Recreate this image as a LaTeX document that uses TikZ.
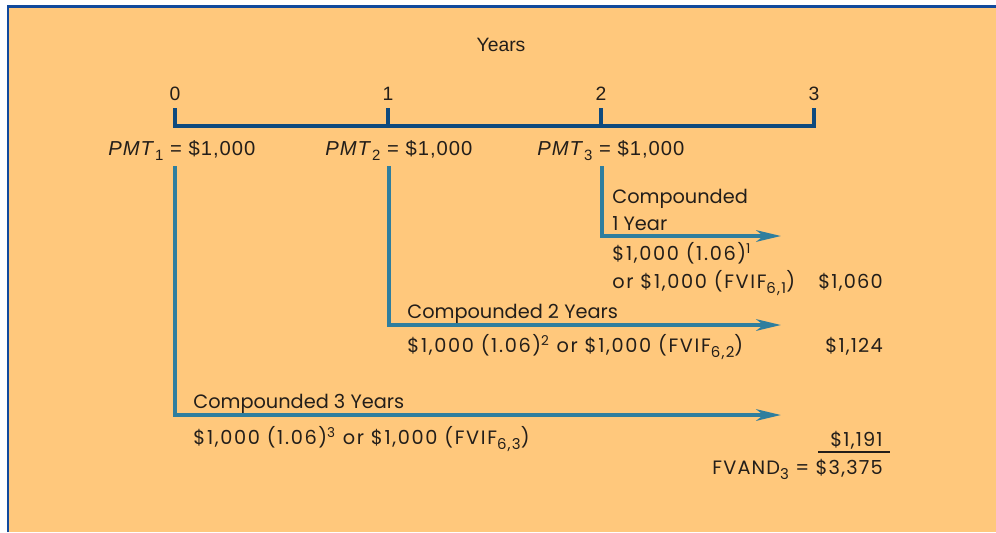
\documentclass[tikz,border=0pt]{standalone}
\usepackage{fontspec}
\setmainfont{Liberation Sans}
\newfontfamily\bookfont{Poppins}
\newfontfamily\sumfont[LetterSpace=6]{Poppins}
\newfontfamily\calcfont[LetterSpace=8.5]{Poppins}
\newfontfamily\pmtfont[LetterSpace=5]{Liberation Sans}
\newcommand\lowsub[1]{\raisebox{-0.55ex}{\fontsize{8.5}{9}\selectfont #1}}
\usetikzlibrary{arrows.meta}
\definecolor{paper}{HTML}{FFC87C}
\definecolor{frameblue}{HTML}{124A9C}
\definecolor{lineblue}{HTML}{0E4A7E}
\definecolor{flowblue}{HTML}{2F7E9E}
\definecolor{ink}{HTML}{231E1A}

\begin{document}
\begin{tikzpicture}[x=0.02cm, y=-0.02cm,
    every node/.style={inner sep=0pt, text=ink, font=\fontsize{11}{13}\selectfont},
    tick/.style={anchor=base},
    pmt/.style={anchor=base west, font=\pmtfont\fontsize{11.5}{13}\selectfont},
    lbl/.style={anchor=base west, font=\bookfont\fontsize{11}{13}\selectfont},
    calc/.style={anchor=base west, font=\calcfont\fontsize{11}{13}\selectfont},
    amount/.style={anchor=base east, font=\sumfont\fontsize{11}{13}\selectfont},
    timeline/.style={draw=lineblue, line width=2.8pt, line join=miter},
    flow/.style={draw=flowblue, line width=2.2pt, line join=miter,
      -{Stealth[length=14pt, width=6.5pt, inset=4pt]}}]
  \useasboundingbox (0,0) rectangle (996,532);
  \fill[white] (0,0) rectangle (996,532);
  \fill[paper] (8,6) rectangle (996,532);
  \draw[frameblue, line width=1.7pt] (8,532) -- (8,6) -- (996,6);

  \node (years) at (501,45) {Years};
  \node[tick] (y0) at (175,100) {0};
  \node[tick] (y1) at (388,100) {1};
  \node[tick] (y2) at (601,100) {2};
  \node[tick] (y3) at (814,100) {3};

  \coordinate (k0) at (175,108);
  \coordinate (k1) at (388,108);
  \coordinate (k2) at (601,108);
  \coordinate (k3) at (814,108);
  \coordinate (t0) at (175,126);
  \coordinate (t1) at (388,126);
  \coordinate (t2) at (601,126);
  \coordinate (t3) at (814,126);
  \draw[timeline] (k0) -- (t0) -- (t3) -- (k3);
  \draw[timeline] (k1) -- (t1);
  \draw[timeline] (k2) -- (t2);

  \node[pmt] (pmt1) at (108,155) {\textit{PMT}\lowsub{1} = \$1,000};
  \node[pmt] (pmt2) at (325,155) {\textit{PMT}\lowsub{2} = \$1,000};
  \node[pmt] (pmt3) at (537,155) {\textit{PMT}\lowsub{3} = \$1,000};

  \coordinate (s1) at (175,166);
  \coordinate (s2) at (389,166);
  \coordinate (s3) at (602,166);
  \coordinate (e1) at (781,415);
  \coordinate (e2) at (781,325);
  \coordinate (e3) at (781,236);
  \draw[flow] (s1) |- (e1);
  \draw[flow] (s2) |- (e2);
  \draw[flow] (s3) |- (e3);

  \node[lbl] (c1a) at (612,203) {Compounded};
  \node[lbl] (c1b) at (612,230) {1 Year};
  \node[calc] (f1a) at (612,260) {\$1,000 (1.06)\textsuperscript{1}};
  \node[calc] (f1b) at (612,288) {or \$1,000 (FVIF\lowsub{6,1})};
  \node[amount] (v1) at (883,288) {\$1,060};

  \node[lbl] (c2) at (407,318) {Compounded 2 Years};
  \node[calc] (f2) at (407,352) {\$1,000 (1.06)\textsuperscript{2} or \$1,000 (FVIF\lowsub{6,2})};
  \node[amount] (v2) at (883,352) {\$1,124};

  \node[lbl] (c3) at (193,408) {Compounded 3 Years};
  \node[calc] (f3) at (193,444) {\$1,000 (1.06)\textsuperscript{3} or \$1,000 (FVIF\lowsub{6,3})};
  \node[amount] (v3) at (883,446) {\$1,191};
  \draw[ink, line width=0.9pt] (818,452) -- (890,452);
  \node[amount] (total) at (883,474) {FVAND\lowsub{3} = \$3,375};
\end{tikzpicture}
\end{document}
